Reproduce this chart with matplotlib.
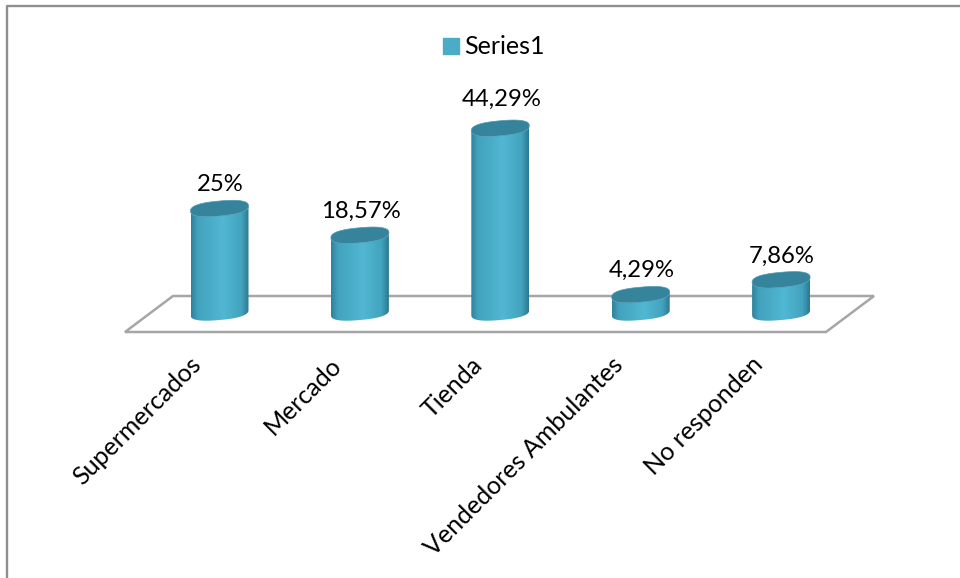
import numpy as np
import matplotlib
matplotlib.use("Agg")
import matplotlib.pyplot as plt
from matplotlib.patches import PathPatch, Patch, Polygon
from matplotlib.path import Path

plt.rcParams["font.family"] = ["Lato", "DejaVu Sans"]

categories = ["Supermercados", "Mercado", "Tienda", "Vendedores Ambulantes", "No responden"]
values = [25, 18.57, 44.29, 4.29, 7.86]
value_labels = ["25%", "18,57%", "44,29%", "4,29%", "7,86%"]
series_name = "Series1"

# the whole figure is one axes in pixels, the 3d look is drawn by hand
fig = plt.figure(figsize=(9.6, 5.78), dpi=100)
ax = fig.add_axes([0, 0, 1, 1])
ax.set_xlim(0, 960)
ax.set_ylim(578, 0)
ax.axis("off")

BASE_Y = 312.5
PX_PER_PCT = 4.16
FIRST_X = 219.5
STEP_X = 140.4
RX = 29
RY = 7.5
TILT = -5
label_gap = [24, 24, 29, 24, 23]

# chart frame
ax.plot([7, 7, 960], [578, 5.5, 5.5], color="#8f8f8f", lw=1.7, zorder=1)

# floor
ax.add_patch(Polygon([(125, 332), (826, 332), (874, 296), (173, 296)], closed=True,
                     fill=False, edgecolor="#a6a6a6", lw=1.8, zorder=1))

# horizontal shading of the cylinder
stops = np.array([0, 0.12, 0.55, 0.87, 1])
cols = np.array([[0x2f, 0x82, 0x9c], [0x42, 0xa3, 0xbe], [0x51, 0xb7, 0xd2],
                 [0x43, 0xa4, 0xbf], [0x2c, 0x78, 0x90]]) / 255
xs = np.linspace(0, 1, 120)
grad = np.stack([np.interp(xs, stops, cols[:, i]) for i in range(3)], axis=-1)[None, :, :]


def ellipse_pts(cx, cy, a0, a1, n=60):
    # slightly squarer than a true ellipse, like the office 3d cylinder
    t = np.radians(np.linspace(a0, a1, n))
    x = RX * np.sign(np.cos(t)) * np.abs(np.cos(t)) ** 0.8
    y = RY * np.sign(np.sin(t)) * np.abs(np.sin(t)) ** 0.8
    return np.column_stack([cx + x, cy + y + x * np.sin(np.radians(TILT))])


for i, (val, lab) in enumerate(zip(values, value_labels)):
    cx = FIRST_X + i * STEP_X
    top = BASE_Y - val * PX_PER_PCT
    # body: lower half of base ellipse, then back over the top
    low = ellipse_pts(cx, BASE_Y, 180, 0)
    up = ellipse_pts(cx, top, 0, 180)
    pts = np.vstack([low, up, low[:1]])
    clip = PathPatch(Path(pts), fc="none", ec="none", transform=ax.transData)
    ax.add_patch(clip)
    im = ax.imshow(grad, extent=[cx - RX, cx + RX, BASE_Y + 20, top - 20], aspect="auto", zorder=3)
    im.set_clip_path(clip)
    # top cap
    cap = Polygon(ellipse_pts(cx, top, 0, 360), closed=True, fc="#36839c", ec="#4f9bb2", lw=0.5, zorder=4)
    ax.add_patch(cap)
    ax.text(cx + 1, top - label_gap[i], lab, ha="center", va="center", fontsize=17.2, color="black", zorder=5)
    # category label, rotated, ends under the bar
    ax.text(cx - 30, 353, categories[i], rotation=45, rotation_mode="anchor", ha="right", va="top",
            fontsize=18, color="black", zorder=5)

ax.set_xlim(0, 960)
ax.set_ylim(578, 0)

ax.legend(handles=[Patch(color="#4bacc6", label=series_name)], loc="center",
          bbox_to_anchor=(494 / 960, 1 - 47 / 578), frameon=False, fontsize=18,
          handlelength=0.62, handleheight=0.62, handletextpad=0.22)

fig.savefig("out.png", dpi=100)
